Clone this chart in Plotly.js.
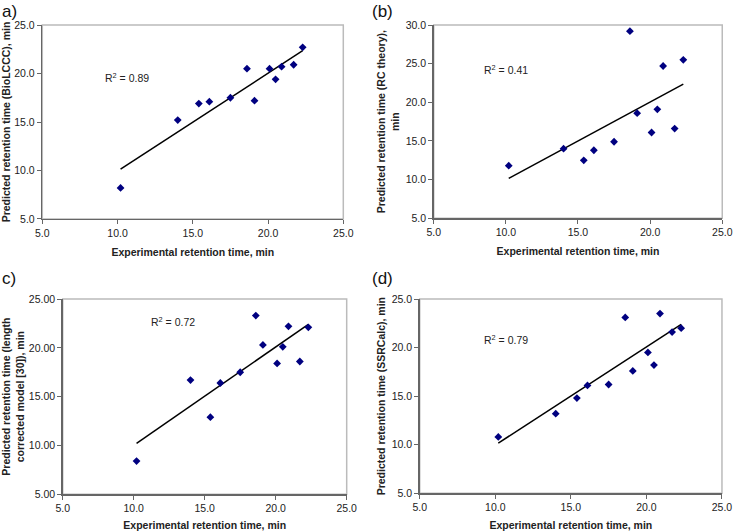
<!DOCTYPE html>
<html>
<head>
<meta charset="utf-8">
<script src="https://cdn.plot.ly/plotly-3.0.1.min.js"></script>
<style>html,body{margin:0;padding:0;background:#fff}#chart{width:737px;height:531px}</style>
</head>
<body>
<div id="chart"></div>
<script>
// Experimental retention times (shared by all panels), min
var experimental = [10.2, 14.0, 15.4, 16.1, 17.5, 18.6, 19.1, 20.1, 20.5, 20.9, 21.7, 22.3];
// Predicted retention times
var predBioLCCC = [8.2, 15.2, 16.9, 17.1, 17.5, 20.5, 17.2, 20.5, 19.4, 20.7, 20.9, 22.7];
var predRCtheory = [11.8, 14.0, 12.5, 13.8, 14.9, 29.2, 18.6, 16.1, 19.1, 24.7, 16.6, 25.5];
var predLengthCorr = [8.4, 16.7, 12.9, 16.4, 17.5, 23.3, 20.3, 18.4, 20.1, 22.2, 18.6, 22.1];
var predSSRCalc = [10.8, 13.2, 14.8, 16.1, 16.2, 23.1, 17.6, 19.5, 18.2, 23.5, 21.6, 22.0];
// Trend line end points [x0, x1] and [y0, y1]
var trendX = [10.2, 22.3];
var trendA = [10.15, 22.35];
var trendB = [10.17, 22.35];
var trendC = [10.22, 22.4];
var trendD = [10.17, 22.39];
var r2Labels = ["0.89", "0.41", "0.72", "0.79"];
var panelLabels = ["a)", "(b)", "c)", "(d)"];
var yTitles = [
  "Predicted retention time (BioLCCC), min",
  "Predicted retention time (RC theory),<br>min",
  "Predicted retention time (length<br>corrected model [30]), min",
  "Predicted retention time (SSRCalc), min"
];
var xTitle = "Experimental retention time, min";

var preds = [predBioLCCC, predRCtheory, predLengthCorr, predSSRCalc];
var trends = [trendA, trendB, trendC, trendD];
var yRanges = [[5, 25], [5, 30], [5, 25], [5, 25]];
var yFormats = [".1f", ".1f", ".2f", ".1f"];
var xDomains = [[0.0574, 0.4658], [0.5885, 0.9800], [0.0851, 0.4704], [0.5695, 0.9796]];
var yDomains = [[0.5876, 0.9529], [0.5889, 0.9529], [0.0691, 0.4369], [0.0710, 0.4369]];
var r2Pos = [[9.03, 19.6], [8.37, 24.3], [11.08, 22.67], [9.14, 20.87]];
var labelPos = [[0.0, 1.0], [0.502, 1.0], [0.0, 0.497], [0.502, 0.497]];

var font = "Liberation Sans, Arial, sans-serif";
var traces = [];
var layout = {
  width: 737, height: 531,
  margin: {l: 0, r: 0, t: 0, b: 0},
  paper_bgcolor: "#fff", plot_bgcolor: "#fff",
  showlegend: false,
  font: {family: font, size: 10, color: "#222"},
  annotations: [], shapes: []
};

for (var i = 0; i < 4; i++) {
  var sx = i === 0 ? "" : String(i + 1);
  var xa = "x" + sx, ya = "y" + sx;
  traces.push({
    x: trendX, y: trends[i], xaxis: xa, yaxis: ya,
    mode: "lines", line: {color: "#000", width: 1.5}, hoverinfo: "skip"
  });
  traces.push({
    x: experimental, y: preds[i], xaxis: xa, yaxis: ya,
    mode: "markers", marker: {symbol: "diamond", size: 6, color: "#000080"}
  });
  var axBase = {
    showgrid: false, zeroline: false, showline: true,
    linecolor: "#666", linewidth: 1.5,
    ticks: "outside", ticklen: 4, tickcolor: "#666", tickwidth: 1,
    tickfont: {family: font, size: 10.5, color: "#222"},
    dtick: 5, fixedrange: true
  };
  layout["xaxis" + sx] = Object.assign({}, axBase, {
    domain: xDomains[i], range: [5, 25], tick0: 5, tickformat: ".1f",
    anchor: ya,
    title: {text: xTitle, font: {family: font, size: 10.5, color: "#222", weight: "bold"}, standoff: 10}
  });
  layout["yaxis" + sx] = Object.assign({}, axBase, {
    domain: yDomains[i], range: yRanges[i], tick0: 5, tickformat: yFormats[i],
    anchor: xa,
    title: {text: yTitles[i], font: {family: font, size: 10.5, color: "#222", weight: "bold"}, standoff: 4}
  });
  layout.shapes.push({
    type: "rect", xref: xa + " domain", yref: ya + " domain",
    x0: 0, x1: 1, y0: 0, y1: 1, layer: "below",
    line: {color: "#bbb", width: 1.5}
  });
  layout.annotations.push({
    xref: xa, yref: ya, x: r2Pos[i][0], y: r2Pos[i][1],
    xanchor: "left", yanchor: "middle", showarrow: false,
    text: "R<sup>2</sup> = " + r2Labels[i],
    font: {family: font, size: 10.5, color: "#222"}
  });
  layout.annotations.push({
    xref: "paper", yref: "paper", x: labelPos[i][0], y: labelPos[i][1],
    xanchor: "left", yanchor: "top", showarrow: false,
    text: panelLabels[i],
    font: {family: font, size: 17, color: "#111"}
  });
}

Plotly.newPlot("chart", traces, layout, {staticPlot: true, displayModeBar: false});
</script>
</body>
</html>
